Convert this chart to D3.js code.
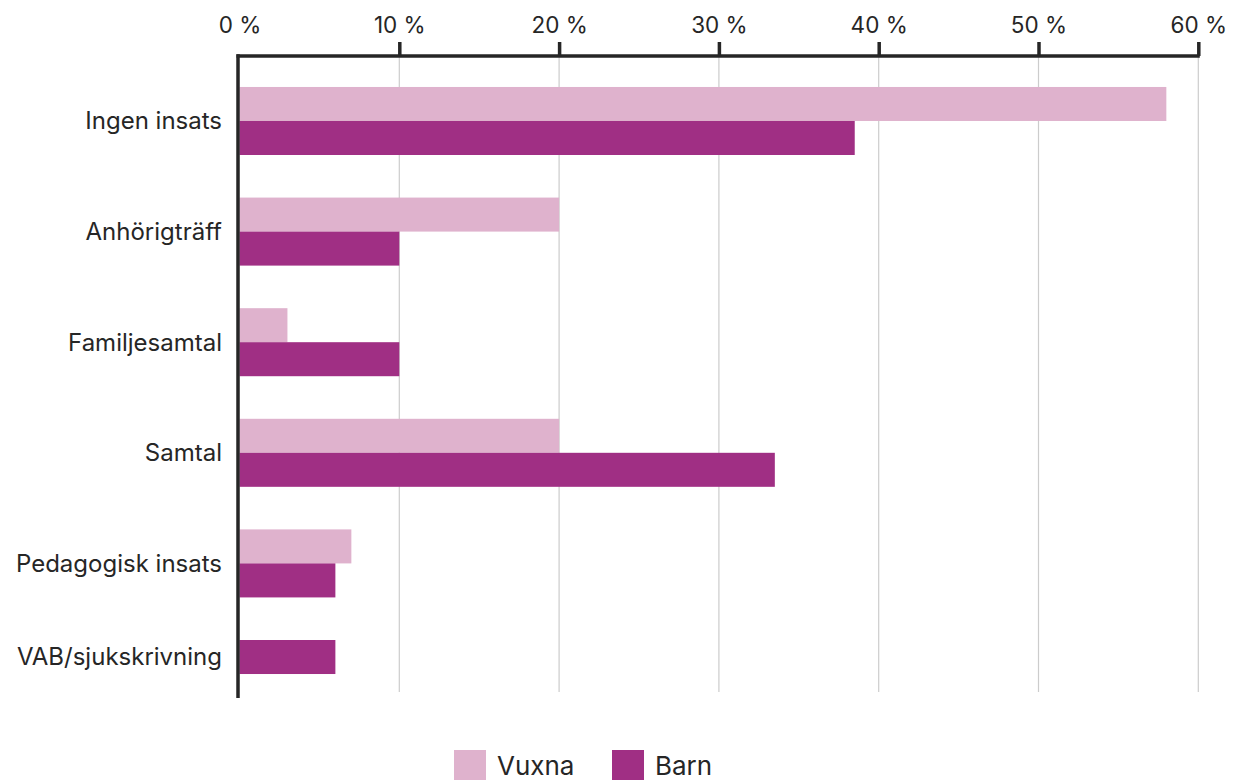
<!DOCTYPE html>
<html>
<head>
<meta charset="utf-8">
<script src="https://cdn.jsdelivr.net/npm/d3@7"></script>
<style>
  html, body { margin: 0; padding: 0; background: #fff; }
  svg { display: block; font-family: Inter, "Noto Sans", sans-serif; }
</style>
</head>
<body>
<svg id="chart" width="1234" height="780"></svg>
<script>
// Insatser, andel per grupp (procent)
const categories = ["Ingen insats", "Anhörigträff", "Familjesamtal", "Samtal", "Pedagogisk insats", "VAB/sjukskrivning"];
const seriesNames = ["Vuxna", "Barn"];
const vuxna = [58, 20, 3, 20, 7, null];
const barn = [38.5, 10, 10, 33.5, 6, 6];
const tickValues = [0, 10, 20, 30, 40, 50, 60];
const colors = ["#dfb2cd", "#a02f84"];

const svg = d3.select("#chart");
const ink = "#262626";

const plotTop = 56, plotBottom = 698, gridBottom = 692;

const x = d3.scaleLinear().domain([0, 60]).range([239.5, 1198.3]);

const y = d3.scaleBand()
  .domain(categories)
  .range([plotTop, 739])
  .paddingInner(0.385)
  .paddingOuter(0.28);

const inner = d3.scaleBand().domain([0, 1]).range([0, y.bandwidth()]);

// gridlines
svg.append("g")
  .selectAll("line")
  .data(tickValues.filter(d => d > 0))
  .join("line")
  .attr("x1", d => x(d)).attr("x2", d => x(d))
  .attr("y1", plotTop).attr("y2", gridBottom)
  .attr("stroke", "#cccccc")
  .attr("stroke-width", 1.2);

// bars: only series with a value take a slot in their group
const values = [vuxna, barn];
const rows = categories.map((c, i) => {
  const present = seriesNames
    .map((s, k) => ({ series: s, k, value: values[k][i] }))
    .filter(d => d.value != null);
  return { category: c, present };
});

const groups = svg.append("g").selectAll("g")
  .data(rows)
  .join("g")
  .attr("transform", d => `translate(0,${y(d.category)})`);

groups.selectAll("rect")
  .data(d => d.present.map((p, slot) => ({ ...p, slot })))
  .join("rect")
  .attr("x", x(0))
  .attr("y", d => inner(d.slot))
  .attr("width", d => x(d.value) - x(0))
  .attr("height", inner.bandwidth())
  .attr("fill", d => colors[d.k]);

// category labels, centred on the bars present
groups.append("text")
  .attr("x", 222)
  .attr("y", d => d.present.length * inner.bandwidth() / 2)
  .attr("dy", "0.35em")
  .attr("text-anchor", "end")
  .attr("font-size", 24)
  .attr("fill", ink)
  .text(d => d.category);

// top axis
const xAxis = d3.axisTop(x)
  .tickValues(tickValues)
  .tickSize(14)
  .tickPadding(9)
  .tickFormat(d => `${d} %`);

const axisG = svg.append("g")
  .attr("transform", `translate(0,${plotTop})`)
  .call(xAxis);
axisG.select(".domain")
  .attr("d", `M${x(0) - 3},0H${x(60) + 1.5}`)
  .attr("stroke", ink)
  .attr("stroke-width", 3.5);
axisG.selectAll(".tick line")
  .attr("stroke", ink)
  .attr("stroke-width", 3.5)
  .attr("display", d => d === 0 ? "none" : null);
axisG.selectAll(".tick text")
  .attr("font-size", 22.5)
  .attr("font-family", "Inter, 'Noto Sans', sans-serif")
  .attr("fill", ink);

// left axis line
svg.append("line")
  .attr("x1", x(0) - 1.5).attr("x2", x(0) - 1.5)
  .attr("y1", plotTop - 1.75).attr("y2", plotBottom)
  .attr("stroke", ink)
  .attr("stroke-width", 3.5);

// legend
const legendX = [454, 612];
const legend = svg.append("g").selectAll("g")
  .data(seriesNames)
  .join("g")
  .attr("transform", (d, i) => `translate(${legendX[i]},750)`);
legend.append("rect")
  .attr("width", 32).attr("height", 30)
  .attr("fill", (d, i) => colors[i]);
legend.append("text")
  .attr("x", 43).attr("y", 25)
  .attr("font-size", 26)
  .attr("fill", ink)
  .text(d => d);
</script>
</body>
</html>
